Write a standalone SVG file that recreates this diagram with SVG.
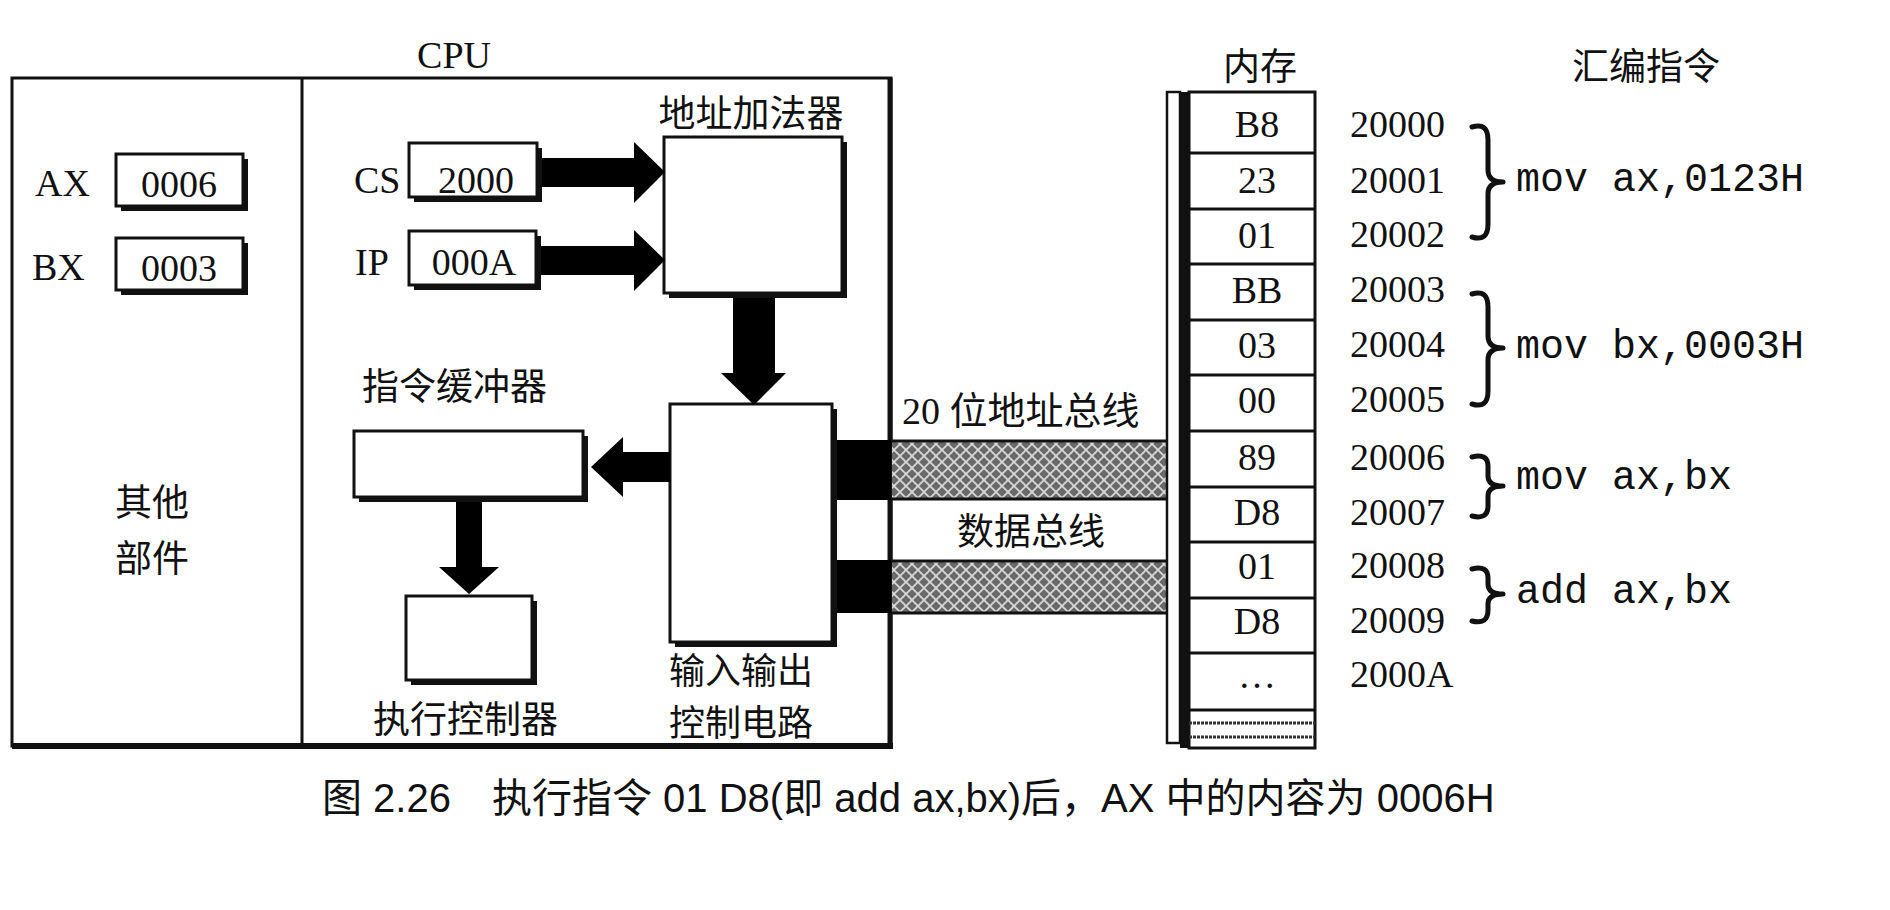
<svg xmlns="http://www.w3.org/2000/svg" width="1890" height="910" viewBox="0 0 1890 910">
<defs>
<style>
.t{font-family:"Liberation Serif","Noto Sans CJK SC",serif;font-size:38px;fill:#111}
.c{font-family:"Noto Sans CJK SC","Liberation Sans",sans-serif;font-size:37px;fill:#111}
.m{font-family:"Liberation Mono","Courier New",monospace;font-size:40px;fill:#111}
.cap{font-family:"Liberation Sans","Noto Sans CJK SC",sans-serif;font-size:40px;fill:#111}
.box{fill:#fff;stroke:#111;stroke-width:3}
.sh{fill:#111}
.arr{fill:#000}
.br{fill:none;stroke:#111;stroke-width:5;stroke-linecap:round;stroke-linejoin:round}
.ln{stroke:#111;stroke-width:3}
</style>
<pattern id="hatch" width="12" height="12" patternUnits="userSpaceOnUse">
<rect width="12" height="12" fill="#6a6a6a"/>
<path d="M0,0L12,12M12,0L0,12" stroke="#dcdcdc" stroke-width="1.6"/>
</pattern>
</defs>
<rect width="1890" height="910" fill="#fff"/>

<g id="frame">
<rect x="12" y="78" width="879" height="668" fill="none" stroke="#111" stroke-width="3"/>
<line x1="12" y1="746" x2="893" y2="746" stroke="#111" stroke-width="6"/>
<line x1="890" y1="78" x2="890" y2="748" stroke="#111" stroke-width="5"/>
<line x1="302" y1="78" x2="302" y2="746" stroke="#111" stroke-width="3"/>
<text class="t" x="454" y="68" text-anchor="middle">CPU</text>
</g>

<g id="other">
<text class="c" x="115" y="516">其他</text>
<text class="c" x="115" y="572">部件</text>
</g>

<g id="ax">
<text class="t" x="35" y="196">AX</text>
<rect class="sh" x="121" y="159" width="127" height="52"/>
<rect class="box" x="116" y="154" width="127" height="52"/>
<text class="t" x="179" y="197" text-anchor="middle">0006</text>
</g>
<g id="bx">
<text class="t" x="32" y="280">BX</text>
<rect class="sh" x="121" y="243" width="127" height="52"/>
<rect class="box" x="116" y="238" width="127" height="52"/>
<text class="t" x="179" y="281" text-anchor="middle">0003</text>
</g>

<g id="cs">
<text class="t" x="354" y="193">CS</text>
<rect class="sh" x="414" y="148" width="128" height="54"/>
<rect class="box" x="409" y="143" width="128" height="54"/>
<text class="t" x="476" y="193" text-anchor="middle">2000</text>
</g>
<g id="ip">
<text class="t" x="355" y="275">IP</text>
<rect class="sh" x="414" y="236" width="127" height="54"/>
<rect class="box" x="409" y="231" width="127" height="54"/>
<text class="t" x="474" y="275" text-anchor="middle">000A</text>
</g>

<g id="adder">
<text class="c" x="751" y="127" text-anchor="middle">地址加法器</text>
<rect class="sh" x="669" y="142" width="178" height="156"/>
<rect class="box" x="664" y="137" width="178" height="156"/>
</g>

<g id="io">
<rect class="sh" x="675" y="409" width="162" height="238"/>
<rect class="box" x="670" y="404" width="162" height="238"/>
<text class="c" x="669" y="684" style="font-size:36px">输入输出</text>
<text class="c" x="669" y="736" style="font-size:36px">控制电路</text>
</g>

<g id="buffer">
<text class="c" x="362" y="400">指令缓冲器</text>
<rect class="sh" x="359" y="436" width="229" height="66"/>
<rect class="box" x="354" y="431" width="229" height="66"/>
</g>

<g id="exec">
<rect class="sh" x="411" y="601" width="126" height="84"/>
<rect class="box" x="406" y="596" width="126" height="84"/>
<text class="c" x="373" y="733">执行控制器</text>
</g>

<g id="connectors">
<polygon class="arr" points="542,158 634,158 634,142 665,172 634,203 634,187 542,187"/>
<polygon class="arr" points="541,246 634,246 634,230 665,260 634,291 634,275 541,275"/>
<polygon class="arr" points="733,298 775,298 775,373 786,373 754,405 721,373 733,373"/>
<polygon class="arr" points="670,452 623,452 623,437 591,467 623,497 623,482 670,482"/>
<polygon class="arr" points="456,502 482,502 482,567 499,567 469,594 439,567 456,567"/>
<rect class="arr" x="837" y="440" width="54" height="60"/>
<rect class="arr" x="837" y="560" width="54" height="53"/>
</g>

<g id="addrbus">
<rect x="892" y="441" width="276" height="58" fill="url(#hatch)"/>
<line class="ln" x1="892" y1="441" x2="1168" y2="441"/>
<line class="ln" x1="892" y1="499" x2="1168" y2="499"/>
<text class="t" x="902" y="424">20 位地址总线</text>
</g>
<g id="databus">
<rect x="892" y="561" width="276" height="52" fill="url(#hatch)"/>
<line class="ln" x1="892" y1="561" x2="1168" y2="561"/>
<line class="ln" x1="892" y1="613" x2="1168" y2="613"/>
<text class="c" x="957" y="545">数据总线</text>
</g>

<g id="memory">
<text class="c" x="1223" y="80">内存</text>
<rect x="1167" y="92" width="13" height="651" fill="#fff" stroke="#111" stroke-width="2.5"/>
<rect x="1180" y="92" width="10" height="656" fill="#111"/>
<rect x="1189" y="92" width="126" height="656" fill="#fff" stroke="#111" stroke-width="3"/>
<g class="ln">
<line x1="1189" y1="153" x2="1315" y2="153"/>
<line x1="1189" y1="209" x2="1315" y2="209"/>
<line x1="1189" y1="264" x2="1315" y2="264"/>
<line x1="1189" y1="320" x2="1315" y2="320"/>
<line x1="1189" y1="375" x2="1315" y2="375"/>
<line x1="1189" y1="431" x2="1315" y2="431"/>
<line x1="1189" y1="487" x2="1315" y2="487"/>
<line x1="1189" y1="542" x2="1315" y2="542"/>
<line x1="1189" y1="598" x2="1315" y2="598"/>
<line x1="1189" y1="653" x2="1315" y2="653"/>
<line x1="1189" y1="710" x2="1315" y2="710"/>
<line x1="1189" y1="723" x2="1315" y2="723" stroke="#333" stroke-dasharray="3 1"/>
<line x1="1189" y1="737" x2="1315" y2="737" stroke="#333" stroke-dasharray="3 1"/>
</g>
<g class="t" text-anchor="middle">
<text x="1257" y="137">B8</text>
<text x="1257" y="193">23</text>
<text x="1257" y="248">01</text>
<text x="1257" y="303">BB</text>
<text x="1257" y="358">03</text>
<text x="1257" y="413">00</text>
<text x="1257" y="470">89</text>
<text x="1257" y="525">D8</text>
<text x="1257" y="579">01</text>
<text x="1257" y="634">D8</text>
<text x="1257" y="688">…</text>
</g>
</g>

<g id="addresses" class="t">
<text x="1350" y="137">20000</text>
<text x="1350" y="193">20001</text>
<text x="1350" y="247">20002</text>
<text x="1350" y="302">20003</text>
<text x="1350" y="357">20004</text>
<text x="1350" y="412">20005</text>
<text x="1350" y="470">20006</text>
<text x="1350" y="525">20007</text>
<text x="1350" y="578">20008</text>
<text x="1350" y="633">20009</text>
<text x="1350" y="687">2000A</text>
</g>

<g id="asm">
<text class="c" x="1572" y="80">汇编指令</text>
<path class="br" d="M1472,127 Q1488,122 1488,140 L1488,170 Q1488,182 1503,182 Q1488,182 1488,194 L1488,224 Q1488,242 1472,237"/>
<text class="m" x="1516" y="191">mov ax,0123H</text>
<path class="br" d="M1472,294 Q1488,289 1488,307 L1488,336 Q1488,348 1503,348 Q1488,348 1488,360 L1488,391 Q1488,409 1472,404"/>
<text class="m" x="1516" y="358">mov bx,0003H</text>
<path class="br" d="M1472,457 Q1488,453 1488,466 L1488,476 Q1488,486 1503,486 Q1488,486 1488,496 L1488,506 Q1488,520 1472,516"/>
<text class="m" x="1516" y="489">mov ax,bx</text>
<path class="br" d="M1472,569 Q1488,565 1488,578 L1488,584 Q1488,594 1503,594 Q1488,594 1488,604 L1488,610 Q1488,625 1472,621"/>
<text class="m" x="1516" y="603">add ax,bx</text>
</g>

<g id="caption">
<text class="cap" x="322" y="812">图 2.26</text>
<text class="cap" x="492" y="812">执行指令 01 D8(即 add ax,bx)后，AX 中的内容为 0006H</text>
</g>
</svg>
